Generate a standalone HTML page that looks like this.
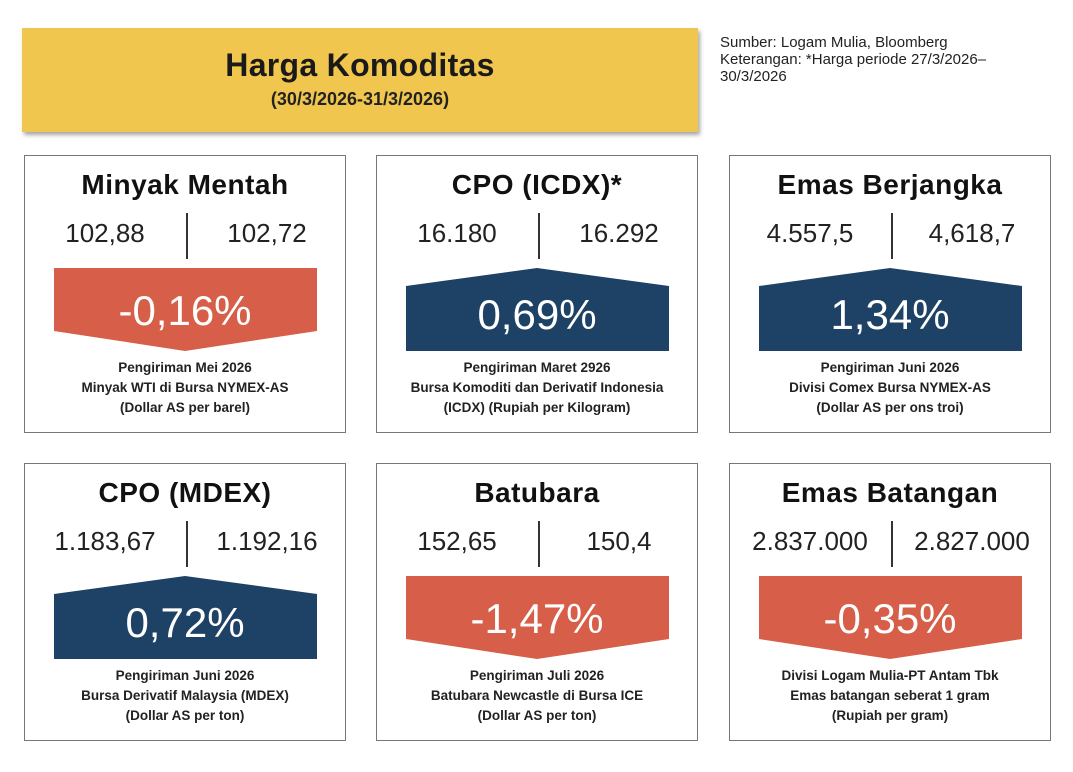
<!DOCTYPE html>
<html><head><meta charset="utf-8">
<style>
body{margin:0;width:1073px;height:772px;background:#fff;position:relative;overflow:hidden;font-family:"Liberation Sans",sans-serif}
.hdr{position:absolute;left:22px;top:28px;width:676px;height:104px;background:#F0C64E;box-shadow:2px 3px 4px rgba(0,0,0,.35);text-align:center}
.hdr h1{margin:0;padding-top:19px;font-size:32px;font-weight:bold;color:#1a1a1a;letter-spacing:0.3px}
.hdr div{font-size:18px;font-weight:bold;color:#222;margin-top:5px}
.src{position:absolute;left:720px;top:34px;font-size:15px;line-height:17px;color:#222;font-family:"Liberation Sans Narrow","Liberation Sans",sans-serif}
.card{position:absolute;width:320px;height:276px;border:1.5px solid #777;background:#fff}
.t{position:absolute;left:0;width:100%;top:13px;text-align:center;font-size:28px;font-weight:bold;color:#111;letter-spacing:0.5px}
.v{position:absolute;top:62px;font-size:26px;color:#222;width:160px;text-align:center}
.d{position:absolute;left:161px;top:57px;width:2px;height:46px;background:#333}
.c{position:absolute;left:0;width:100%;top:202px;text-align:center;font-size:13.5px;font-weight:bold;line-height:20px;color:#222;font-family:"Liberation Sans Narrow","Liberation Sans",sans-serif}
svg{position:absolute;left:0;top:0}
</style></head><body>
<div class="hdr"><h1>Harga Komoditas</h1><div>(30/3/2026-31/3/2026)</div></div>
<div class="src">Sumber: Logam Mulia, Bloomberg<br>Keterangan: *Harga periode 27/3/2026–<br>30/3/2026</div>
<div id="cards"></div>
<script>
const names=["Minyak Mentah","CPO (ICDX)*","Emas Berjangka","CPO (MDEX)","Batubara","Emas Batangan"];
const prev=["102,88","16.180","4.557,5","1.183,67","152,65","2.837.000"];
const curr=["102,72","16.292","4,618,7","1.192,16","150,4","2.827.000"];
const changes=[-0.16,0.69,1.34,0.72,-1.47,-0.35];
const captions=[["Pengiriman Mei 2026","Minyak WTI di Bursa NYMEX-AS","(Dollar AS per barel)"],["Pengiriman Maret 2926","Bursa Komoditi dan Derivatif Indonesia","(ICDX) (Rupiah per Kilogram)"],["Pengiriman Juni 2026","Divisi Comex Bursa NYMEX-AS","(Dollar AS per ons troi)"],["Pengiriman Juni 2026","Bursa Derivatif Malaysia (MDEX)","(Dollar AS per ton)"],["Pengiriman Juli 2026","Batubara Newcastle di Bursa ICE","(Dollar AS per ton)"],["Divisi Logam Mulia-PT Antam Tbk","Emas batangan seberat 1 gram","(Rupiah per gram)"]];
const root=document.getElementById('cards');
const lefts=[24,376,729],tops=[155,463];
names.forEach((n,i)=>{
  const c=document.createElement('div');c.className='card';
  
  
  c.style.left=lefts[i%3]+'px';c.style.top=tops[Math.floor(i/3)]+'px';
  const up=changes[i]>=0;
  const col=up?'#1E4166':'#D75E48';
  const pts=up?'29,130 160,112 292,130 292,195 29,195':'29,112 292,112 292,175 160,195 29,175';
  const pct=(changes[i]>0?'':'-')+Math.abs(changes[i]).toFixed(2).replace('.',',')+'%';
  c.innerHTML=`<svg width="322" height="278"><polygon points="${pts}" fill="${col}"/><text x="160" y="${up?173:169}" text-anchor="middle" font-family="Liberation Sans,sans-serif" font-size="42" fill="#fff">${pct}</text></svg>
  <div class="t">${n}</div><div class="v" style="left:0">${prev[i]}</div><div class="d"></div><div class="v" style="left:162px">${curr[i]}</div>
  <div class="c">${captions[i].join('<br>')}</div>`;
  c.querySelector('.t');
  c.querySelector('.t');
  c.querySelector('polygon');
  c.querySelector('polygon');
  c.querySelector('.c');
  c.querySelector('.c');
  root.appendChild(c);
});
</script>
</body></html>
